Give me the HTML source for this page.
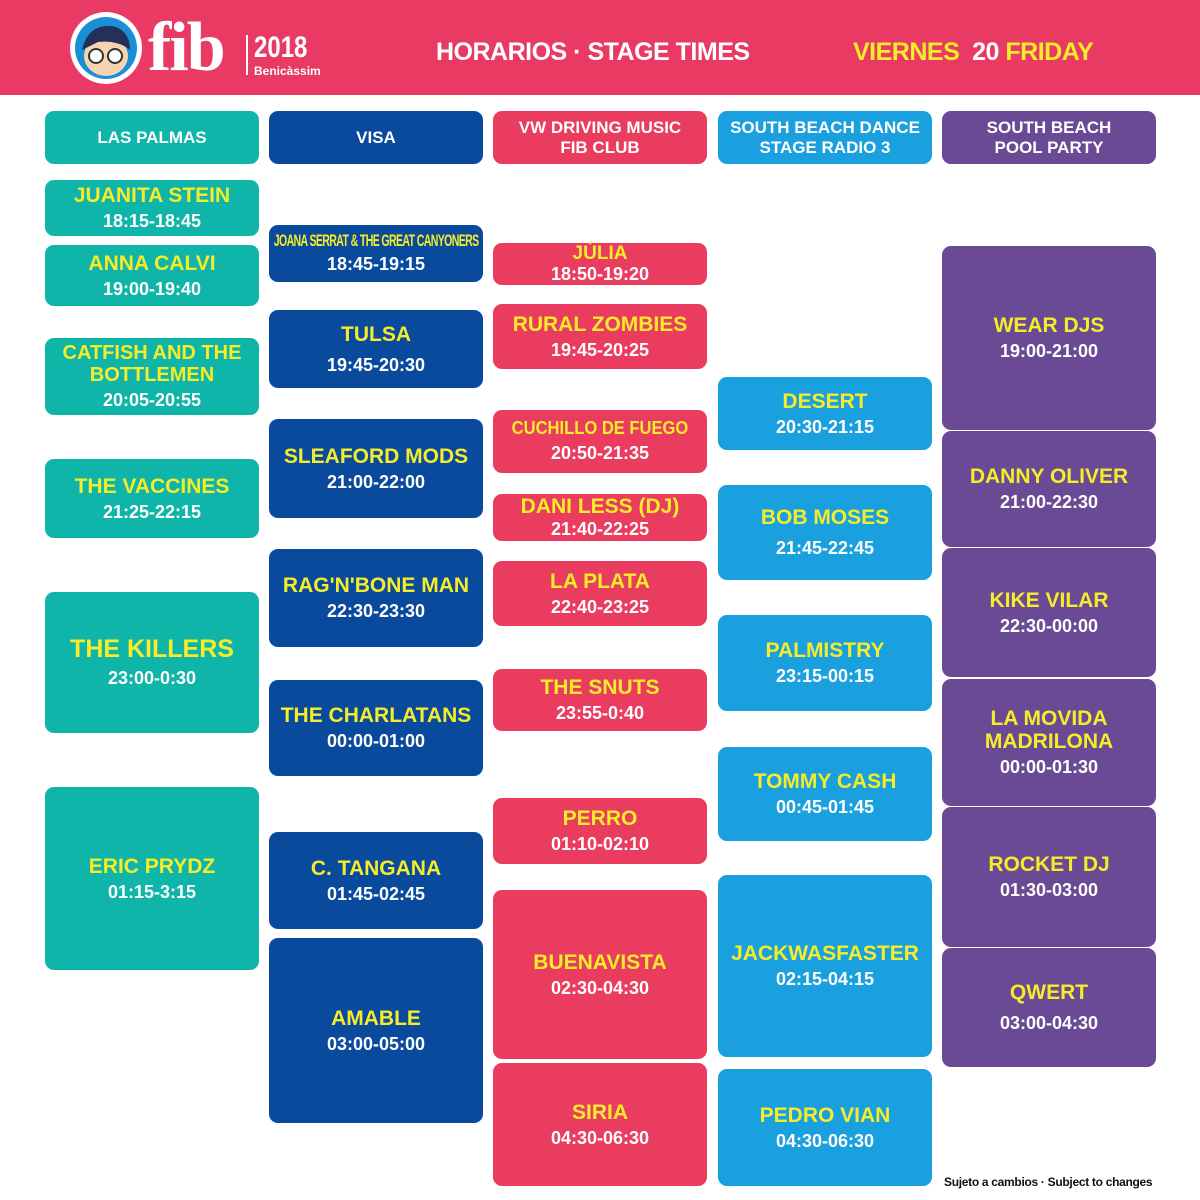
<!DOCTYPE html><html><head><meta charset="utf-8"><style>
body{margin:0;width:1200px;height:1200px;background:#fff;position:relative;font-family:"Liberation Sans",sans-serif;overflow:hidden}
.hd{position:absolute;left:0;top:0;width:1200px;height:95px;background:#e83a62}
.b{position:absolute;border-radius:9px;display:flex;flex-direction:column;align-items:center;justify-content:center;text-align:center;font-weight:bold;color:#fff;box-sizing:border-box;line-height:1.1}
.n{color:#f5ec2a;font-size:21px;margin-bottom:5px}
.t{font-size:18px}
.h{font-size:17px;font-weight:bold;color:#fff;line-height:1.15}
.c1{left:45px;width:214px;background:#0fb5a8}
.c2{left:269px;width:214px;background:#0a4a9c}
.c3{left:493px;width:214px;background:#e93c5f}
.c4{left:718px;width:214px;background:#1aa0de}
.c5{left:942px;width:214px;background:#6a4a94}
</style></head><body>
<div class="hd"></div>
<svg style="position:absolute;left:68px;top:10px" width="80" height="76"><circle cx="38" cy="38" r="36" fill="#fff"/><circle cx="38" cy="38" r="31" fill="#1a8fd6"/><ellipse cx="38" cy="46" rx="22" ry="20" fill="#f7d3b0"/><path d="M14 40 Q20 14 44 16 Q62 20 62 40 Q50 30 30 32 Z" fill="#23305a"/><circle cx="28" cy="46" r="7" fill="#fff" stroke="#333" stroke-width="2"/><circle cx="47" cy="46" r="7" fill="#fff" stroke="#333" stroke-width="2"/></svg>
<div style="position:absolute;left:148px;top:10px;font:bold 70px 'Liberation Serif',serif;color:#fff;line-height:76px;letter-spacing:-2px">fib</div>
<div style="position:absolute;left:246px;top:35px;width:2px;height:40px;background:#fff"></div>
<div style="position:absolute;left:254px;top:32px;font:bold 30px 'Liberation Sans',sans-serif;color:#fff;line-height:32px;transform:scaleX(.8);transform-origin:left">2018</div>
<div style="position:absolute;left:254px;top:64px;font:bold 12px 'Liberation Sans',sans-serif;color:#fff">Benicàssim</div>
<div style="position:absolute;left:436px;top:38px;font:900 25px 'Liberation Sans',sans-serif;color:#fff;letter-spacing:-0.5px">HORARIOS · STAGE TIMES</div>
<div style="position:absolute;left:853px;top:38px;font:900 25px 'Liberation Sans',sans-serif;color:#f5ec2a;letter-spacing:-0.5px">VIERNES&nbsp; <span style="color:#fff">20</span> FRIDAY</div>

<div class="b c1" style="top:111px;height:53px"><div class="h">LAS PALMAS</div></div>
<div class="b c2" style="top:111px;height:53px"><div class="h">VISA</div></div>
<div class="b c3" style="top:111px;height:53px"><div class="h">VW DRIVING MUSIC<br>FIB CLUB</div></div>
<div class="b c4" style="top:111px;height:53px"><div class="h">SOUTH BEACH DANCE<br>STAGE RADIO 3</div></div>
<div class="b c5" style="top:111px;height:53px"><div class="h">SOUTH BEACH<br>POOL PARTY</div></div>

<div class="b c1" style="top:180px;height:56px"><div class="n">JUANITA STEIN</div><div class="t">18:15-18:45</div></div>
<div class="b c1" style="top:245px;height:61px"><div class="n">ANNA CALVI</div><div class="t">19:00-19:40</div></div>
<div class="b c1" style="top:338px;height:77px"><div class="n" style="font-size:20px">CATFISH AND THE<br>BOTTLEMEN</div><div class="t">20:05-20:55</div></div>
<div class="b c1" style="top:459px;height:79px"><div class="n">THE VACCINES</div><div class="t">21:25-22:15</div></div>
<div class="b c1" style="top:592px;height:141px"><div class="n" style="font-size:25px">THE KILLERS</div><div class="t">23:00-0:30</div></div>
<div class="b c1" style="top:787px;height:183px"><div class="n">ERIC PRYDZ</div><div class="t">01:15-3:15</div></div>

<div class="b c2" style="top:225px;height:57px;overflow:hidden"><div class="n" style="font-size:17px;letter-spacing:-1px;white-space:nowrap;transform:scaleX(.62)">JOANA SERRAT &amp; THE GREAT CANYONERS</div><div class="t">18:45-19:15</div></div>
<div class="b c2" style="top:310px;height:78px"><div class="n" style="margin-bottom:10px">TULSA</div><div class="t">19:45-20:30</div></div>
<div class="b c2" style="top:419px;height:99px"><div class="n">SLEAFORD MODS</div><div class="t">21:00-22:00</div></div>
<div class="b c2" style="top:549px;height:98px"><div class="n">RAG'N'BONE MAN</div><div class="t">22:30-23:30</div></div>
<div class="b c2" style="top:680px;height:96px"><div class="n">THE CHARLATANS</div><div class="t">00:00-01:00</div></div>
<div class="b c2" style="top:832px;height:97px"><div class="n">C. TANGANA</div><div class="t">01:45-02:45</div></div>
<div class="b c2" style="top:938px;height:185px"><div class="n">AMABLE</div><div class="t">03:00-05:00</div></div>

<div class="b c3" style="top:243px;height:42px"><div class="n" style="margin-bottom:0;font-size:19px">JÚLIA</div><div class="t">18:50-19:20</div></div>
<div class="b c3" style="top:304px;height:65px"><div class="n">RURAL ZOMBIES</div><div class="t">19:45-20:25</div></div>
<div class="b c3" style="top:410px;height:63px"><div class="n" style="font-size:18px;white-space:nowrap;transform:scaleX(.92)">CUCHILLO DE FUEGO</div><div class="t">20:50-21:35</div></div>
<div class="b c3" style="top:494px;height:47px"><div class="n" style="margin-bottom:2px">DANI LESS (DJ)</div><div class="t">21:40-22:25</div></div>
<div class="b c3" style="top:561px;height:65px"><div class="n">LA PLATA</div><div class="t">22:40-23:25</div></div>
<div class="b c3" style="top:669px;height:62px"><div class="n">THE SNUTS</div><div class="t">23:55-0:40</div></div>
<div class="b c3" style="top:798px;height:66px"><div class="n">PERRO</div><div class="t">01:10-02:10</div></div>
<div class="b c3" style="top:890px;height:169px"><div class="n">BUENAVISTA</div><div class="t">02:30-04:30</div></div>
<div class="b c3" style="top:1063px;height:123px"><div class="n">SIRIA</div><div class="t">04:30-06:30</div></div>

<div class="b c4" style="top:377px;height:73px"><div class="n">DESERT</div><div class="t">20:30-21:15</div></div>
<div class="b c4" style="top:485px;height:95px"><div class="n" style="margin-bottom:10px">BOB MOSES</div><div class="t">21:45-22:45</div></div>
<div class="b c4" style="top:615px;height:96px"><div class="n">PALMISTRY</div><div class="t">23:15-00:15</div></div>
<div class="b c4" style="top:747px;height:94px"><div class="n">TOMMY CASH</div><div class="t">00:45-01:45</div></div>
<div class="b c4" style="top:875px;height:182px"><div class="n">JACKWASFASTER</div><div class="t">02:15-04:15</div></div>
<div class="b c4" style="top:1069px;height:117px"><div class="n">PEDRO VIAN</div><div class="t">04:30-06:30</div></div>

<div class="b c5" style="top:246px;height:184px"><div class="n">WEAR DJS</div><div class="t">19:00-21:00</div></div>
<div class="b c5" style="top:431px;height:116px"><div class="n">DANNY OLIVER</div><div class="t">21:00-22:30</div></div>
<div class="b c5" style="top:548px;height:129px"><div class="n">KIKE VILAR</div><div class="t">22:30-00:00</div></div>
<div class="b c5" style="top:679px;height:127px"><div class="n">LA MOVIDA<br>MADRILONA</div><div class="t">00:00-01:30</div></div>
<div class="b c5" style="top:807px;height:140px"><div class="n">ROCKET DJ</div><div class="t">01:30-03:00</div></div>
<div class="b c5" style="top:948px;height:119px"><div class="n" style="margin-bottom:10px">QWERT</div><div class="t">03:00-04:30</div></div>

<div style="position:absolute;left:944px;top:1175px;font:bold 12px 'Liberation Sans',sans-serif;color:#111;letter-spacing:-0.3px">Sujeto a cambios · Subject to changes</div>
</body></html>
